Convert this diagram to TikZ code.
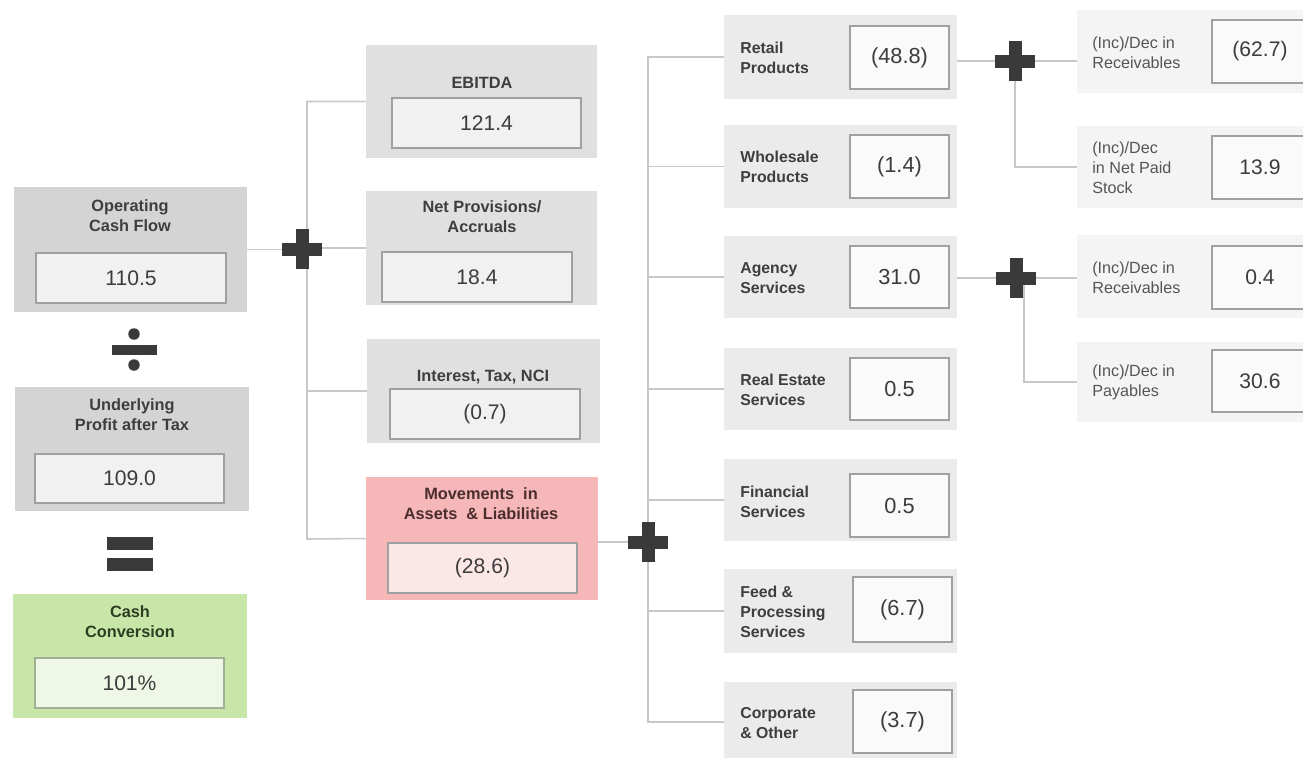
\documentclass[tikz,border=0pt]{standalone}
\usepackage{fontspec}
\setmainfont{Liberation Sans}
\usetikzlibrary{calc,fit,positioning,backgrounds}

\definecolor{boxdark}{RGB}{212,212,212}
\definecolor{boxmid}{RGB}{224,224,224}
\definecolor{boxlight}{RGB}{235,235,235}
\definecolor{boxpale}{RGB}{244,244,244}
\definecolor{valfill}{RGB}{241,241,241}
\definecolor{valwhite}{RGB}{250,250,250}
\definecolor{valline}{RGB}{160,160,160}
\definecolor{pinkbox}{RGB}{245,183,183}
\definecolor{pinkval}{RGB}{252,231,231}
\definecolor{pinktxt}{RGB}{75,45,45}
\definecolor{greenbox}{RGB}{201,230,169}
\definecolor{greenval}{RGB}{239,247,231}
\definecolor{greenline}{RGB}{160,175,150}
\definecolor{greentxt}{RGB}{45,62,35}
\definecolor{linegray}{RGB}{200,200,200}
\definecolor{signgray}{RGB}{58,58,58}
\definecolor{txtgray}{RGB}{62,62,62}
\definecolor{notegray}{RGB}{85,85,85}
\definecolor{valtxt}{RGB}{60,60,60}

\begin{document}
\begin{tikzpicture}[x=0.02cm,y=-0.02cm,
		link/.style={draw=linegray,line width=0.9pt},
		panel/.style={inner sep=0pt},
		valbox/.style={draw=valline,line width=0.8pt,inner sep=0pt},
		num/.style={text=valtxt,font=\fontsize{12}{14}\selectfont},
		smallnum/.style={text=valtxt,font=\fontsize{12.4}{14}\selectfont},
		ttl/.style={align=center,text=txtgray,font=\fontsize{9.3}{11.3}\selectfont\bfseries},
		lbl/.style={anchor=west,align=left,inner sep=0pt,text=txtgray,font=\fontsize{9}{11.3}\selectfont\bfseries},
		note/.style={anchor=west,align=left,inner sep=0pt,text=notegray,font=\fontsize{9.2}{11.3}\selectfont},
		plusop/.style={inner sep=0pt,minimum size=0.8cm,path picture={
				\fill[signgray] ([yshift=-0.13cm]path picture bounding box.west) rectangle ([yshift=0.13cm]path picture bounding box.east);
				\fill[signgray] ([xshift=-0.13cm]path picture bounding box.south) rectangle ([xshift=0.13cm]path picture bounding box.north);}}]
	\useasboundingbox (0,0) rectangle (1303,758);
	
	% Cash conversion = operating cash flow / underlying profit
	\node[panel,fill=boxdark,fit={(14,187) (247,312)}] (ocf) {};
	\node[ttl] (ocfT) at (130,216) {Operating\\Cash Flow};
	\node[valbox,fill=valfill,fit={(36,253) (226,303)}] (ocfV) {};
	\node[num] at (ocfV) {110.5};
	
	\fill[signgray] (134,334) circle (0.115cm);
	\fill[signgray] (112,345) rectangle (157,355);
	\fill[signgray] (134,365) circle (0.115cm);
	
	\node[panel,fill=boxdark,fit={(15,387) (249,511)}] (upat) {};
	\node[ttl] (upatT) at (132,415) {Underlying\\Profit after Tax};
	\node[valbox,fill=valfill,fit={(35,454) (224,503)}] (upatV) {};
	\node[num] at (upatV) {109.0};
	
	\fill[signgray] (107,537) rectangle (153,550);
	\fill[signgray] (107,558) rectangle (153,571);
	
	\node[panel,fill=greenbox,fit={(13,594) (247,718)}] (conv) {};
	\node[ttl,text=greentxt] (convT) at (130,622) {Cash\\Conversion};
	\node[valbox,fill=greenval,draw=greenline,fit={(35,658) (224,708)}] (convV) {};
	\node[num] at (convV) {101\%};
	
	% Components of operating cash flow
	\node[panel,fill=boxmid,fit={(366,45) (597,158)}] (ebitda) {};
	\node[ttl] (ebitdaT) at (482,83) {EBITDA};
	\node[valbox,fill=valfill,fit={(392,98) (581,148)}] (ebitdaV) {};
	\node[num] at (ebitdaV) {121.4};
	
	\node[panel,fill=boxmid,fit={(366,191) (597,305)}] (netprov) {};
	\node[ttl] (netprovT) at (482,217) {Net Provisions/\\Accruals};
	\node[valbox,fill=valfill,fit={(382,252) (572,302)}] (netprovV) {};
	\node[num] at (netprovV) {18.4};
	
	\node[panel,fill=boxmid,fit={(367,339) (600,443)}] (interest) {};
	\node[ttl] (interestT) at (483,377) {Interest, Tax, NCI};
	\node[valbox,fill=valfill,fit={(390,389) (580,439)}] (interestV) {};
	\node[num] at (interestV) {(0.7)};
	
	\node[panel,fill=pinkbox,fit={(366,477) (598,600)}] (moves) {};
	\node[ttl,text=pinktxt] (movesT) at (481,504) {Movements\ \ in\\Assets\ \ \& Liabilities};
	\node[valbox,fill=pinkval,fit={(388,543) (577,593)}] (movesV) {};
	\node[num] at (movesV) {(28.6)};
	
	% Movements by business
	\node[panel,fill=boxlight,fit={(724,15) (957,99)}] (retail) {};
	\node[lbl] (retailT) at (740,58) {Retail\\Products};
	\node[valbox,fill=valwhite,fit={(850,26) (949,89)}] (retailV) {};
	\node[smallnum] at (retailV) {(48.8)};
	
	\node[panel,fill=boxlight,fit={(724,125) (957,208)}] (whole) {};
	\node[lbl] (wholeT) at (740,167) {Wholesale\\Products};
	\node[valbox,fill=valwhite,fit={(850,135) (949,198)}] (wholeV) {};
	\node[smallnum] at (wholeV) {(1.4)};
	
	\node[panel,fill=boxlight,fit={(724,236) (957,318)}] (agency) {};
	\node[lbl] (agencyT) at (740,278) {Agency\\Services};
	\node[valbox,fill=valwhite,fit={(850,246) (949,308)}] (agencyV) {};
	\node[smallnum] at (agencyV) {31.0};
	
	\node[panel,fill=boxlight,fit={(724,348) (957,430)}] (realest) {};
	\node[lbl] (realestT) at (740,390) {Real Estate\\Services};
	\node[valbox,fill=valwhite,fit={(850,358) (949,420)}] (realestV) {};
	\node[smallnum] at (realestV) {0.5};
	
	\node[panel,fill=boxlight,fit={(724,459) (957,541)}] (financial) {};
	\node[lbl] (financialT) at (740,502) {Financial\\Services};
	\node[valbox,fill=valwhite,fit={(850,474) (949,537)}] (financialV) {};
	\node[smallnum] at (financialV) {0.5};
	
	\node[panel,fill=boxlight,fit={(724,569) (957,653)}] (feed) {};
	\node[lbl] (feedT) at (740,612) {Feed \&\\Processing\\Services};
	\node[valbox,fill=valwhite,fit={(853,577) (952,642)}] (feedV) {};
	\node[smallnum] at (feedV) {(6.7)};
	
	\node[panel,fill=boxlight,fit={(724,682) (957,762)}] (corp) {};
	\node[lbl] (corpT) at (740,723) {Corporate\\\& Other};
	\node[valbox,fill=valwhite,fit={(853,690) (952,753)}] (corpV) {};
	\node[smallnum] at (corpV) {(3.7)};
	
	% Working capital detail
	\node[panel,fill=boxpale,fit={(1077,10) (1310,93)}] (recA) {};
	\node[note] (recAT) at (1092,53) {(Inc)/Dec in\\Receivables};
	\node[valbox,fill=valwhite,fit={(1212,20) (1308,83)}] (recAV) {};
	\node[num] at (recAV) {(62.7)};
	
	\node[panel,fill=boxpale,fit={(1077,126) (1310,208)}] (stock) {};
	\node[note] (stockT) at (1092,168) {(Inc)/Dec\\in Net Paid\\Stock};
	\node[valbox,fill=valwhite,fit={(1212,136) (1308,199)}] (stockV) {};
	\node[num] at (stockV) {13.9};
	
	\node[panel,fill=boxpale,fit={(1077,235) (1310,318)}] (recB) {};
	\node[note] (recBT) at (1092,278) {(Inc)/Dec in\\Receivables};
	\node[valbox,fill=valwhite,fit={(1212,246) (1308,309)}] (recBV) {};
	\node[num] at (recBV) {0.4};
	
	\node[panel,fill=boxpale,fit={(1077,342) (1310,422)}] (payab) {};
	\node[note] (payabT) at (1092,382) {(Inc)/Dec in\\Payables};
	\node[valbox,fill=valwhite,fit={(1212,350) (1308,412)}] (payabV) {};
	\node[num] at (payabV) {30.6};
	
	% Plus signs
	\node[plusop] (plusL) at (302,249) {};
	\node[plusop] (plusM) at (648,542) {};
	\node[plusop] (plusA) at (1015,61) {};
	\node[plusop] (plusB) at (1016,278) {};
	
	% Connectors
	\begin{scope}[on background layer]
		\coordinate (trunkL) at (307,539);
		\coordinate (trunkM) at (648,0);
		\draw[link] (ebitda.west) -| (trunkL) -- (moves.west);
		\draw[link] (netprov.west) -- (netprov.west -| trunkL);
		\draw[link] (interest.west) -- (interest.west -| trunkL);
		\draw[link] (ocf.east) -- (ocf.east -| trunkL);
		
		\draw[link] (retail.west) -| (trunkM |- corp.west) -- (corp.west);
		\draw[link] (whole.west) -- (whole.west -| trunkM);
		\draw[link] (agency.west) -- (agency.west -| trunkM);
		\draw[link] (realest.west) -- (realest.west -| trunkM);
		\draw[link] (financial.west) -- (financial.west -| trunkM);
		\draw[link] (feed.west) -- (feed.west -| trunkM);
		\draw[link] (moves.east |- plusM) -- (plusM);
		
		\draw[link] (plusA -| retail.east) -- (plusA -| recA.west);
		\draw[link] (plusA) |- (stock.west);
		\draw[link] (plusB -| agency.east) -- (plusB -| recB.west);
		\draw[link] ($(plusB)+(8,0)$) |- (payab.west);
	\end{scope}
\end{tikzpicture}
\end{document}
